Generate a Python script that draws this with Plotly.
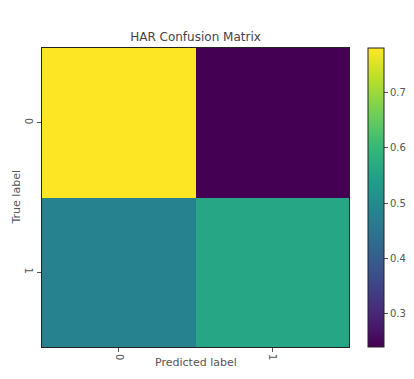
import plotly.graph_objects as go

pred_labels = ["0", "1"]
true_labels = ["0", "1"]
values = [[0.78, 0.24],
          [0.48, 0.56]]
cbar_ticks = [0.3, 0.4, 0.5, 0.6, 0.7]

# page body has an 8px margin, so figure coordinates = reference coordinates - 8
OFF = 8
W, H = 414 - OFF, 379 - OFF
L, T = 42 - OFF, 48 - OFF
PR, PB = 349 - OFF, 347 - OFF
R, B = W - PR, H - PB
PW, PH = PR - L, PB - T

fig = go.Figure(go.Heatmap(
    z=values, x=pred_labels, y=true_labels,
    colorscale="Viridis", zmin=0.24, zmax=0.78,
    colorbar=dict(
        x=(368 - OFF - L) / PW, xanchor="left", xpad=0,
        y=0.5, yanchor="middle", len=1.0, lenmode="fraction", ypad=0,
        thickness=16, outlinewidth=1, outlinecolor="#222",
        tickvals=cbar_ticks, ticktext=[f"{v:.1f}" for v in cbar_ticks],
        ticks="outside", ticklen=4, tickcolor="#555",
        tickfont=dict(family="DejaVu Sans", size=10, color="#555"),
    ),
    hoverongaps=False,
))

fig.update_layout(
    width=W, height=H,
    margin=dict(l=L, r=R, t=T, b=B, autoexpand=False),
    paper_bgcolor="white", plot_bgcolor="white",
    title=dict(text="HAR Confusion Matrix", x=(L + PW / 2) / W, xanchor="center",
               y=1 - (37 - OFF) / H, yanchor="middle",
               font=dict(family="DejaVu Sans", size=12, color="#444")),
    xaxis=dict(type="category", showline=True, linecolor="#222", linewidth=1, mirror=True,
               ticks="outside", ticklen=4, tickcolor="#555", tickangle=90, automargin=False,
               tickfont=dict(family="DejaVu Sans", size=10, color="#555"),
               showgrid=False, zeroline=False),
    yaxis=dict(type="category", autorange="reversed", showline=True, linecolor="#222",
               linewidth=1, mirror=True, ticks="outside", ticklen=4, tickcolor="#555",
               tickangle=90, automargin=False,
               tickfont=dict(family="DejaVu Sans", size=10, color="#555"),
               showgrid=False, zeroline=False),
    annotations=[
        dict(text="Predicted label", xref="paper", yref="paper", x=0.5, y=-(362 - 347) / PH,
             xanchor="center", yanchor="middle", showarrow=False,
             font=dict(family="DejaVu Sans", size=11, color="#555")),
        dict(text="True label", xref="paper", yref="paper", x=-(42 - 16) / PW, y=0.5,
             xanchor="center", yanchor="middle", showarrow=False, textangle=-90,
             font=dict(family="DejaVu Sans", size=11, color="#555")),
    ],
)

fig.write_html("out.html")
